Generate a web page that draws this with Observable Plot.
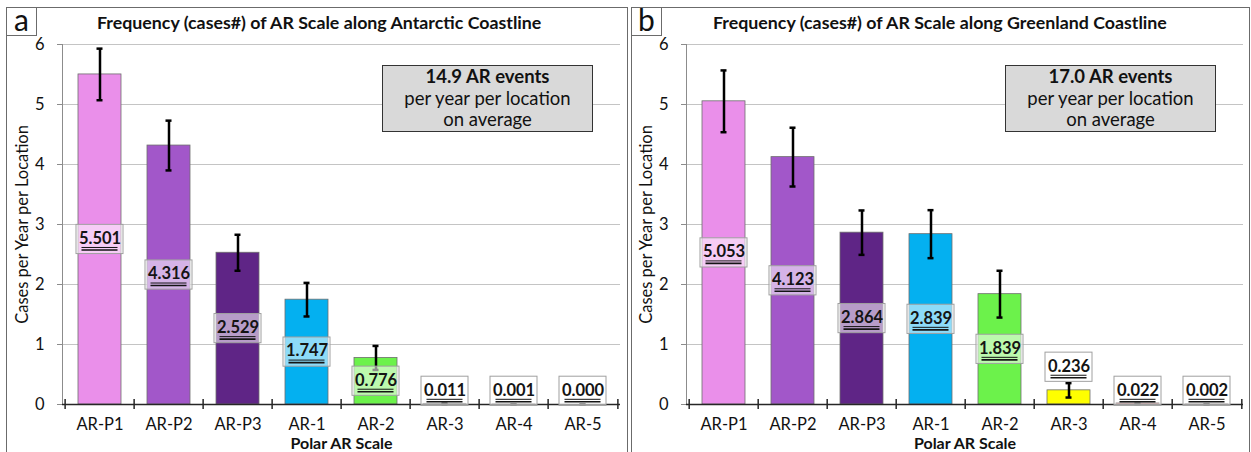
<!DOCTYPE html>
<html><head><meta charset="utf-8">
<script src="https://cdn.jsdelivr.net/npm/d3@7"></script>
<script src="https://cdn.jsdelivr.net/npm/@observablehq/plot@0.6"></script>
<style>
body{margin:0;background:#fff;font-family:Lato,sans-serif;}
#wrap{position:relative;width:1251px;height:452px;overflow:hidden;background:#fff;}
.svgpanel{position:absolute;top:0;}
.border{position:absolute;border:1.5px solid #6b6b6b;box-sizing:border-box;}
.tag{position:absolute;border:1.5px solid #6b6b6b;background:#fff;font-size:30px;line-height:23px;text-align:center;box-sizing:border-box;color:#111;}
.title{position:absolute;font-weight:bold;font-size:17.8px;white-space:nowrap;color:#111;}
.box{position:absolute;background:#d9d9d9;border:1.5px solid #333;box-sizing:border-box;text-align:center;font-size:18.5px;line-height:21.5px;padding-top:0px;color:#111;}
</style></head><body><div id="wrap"></div>
<script>
const categories = ["AR-P1", "AR-P2", "AR-P3", "AR-1", "AR-2", "AR-3", "AR-4", "AR-5"];
const barColors = ["#ea8fea", "#a257c9", "#5f2586", "#04b0f0", "#6cf24b", "#ffff00", "#a0282a", "#7f0000"];
const antarcticValues = [5.501, 4.316, 2.529, 1.747, 0.776, 0.011, 0.001, 0.000];
const antarcticErrors = [0.43, 0.415, 0.30, 0.28, 0.20, 0.012, 0.002, 0.0];
const greenlandValues = [5.053, 4.123, 2.864, 2.839, 1.839, 0.236, 0.022, 0.002];
const greenlandErrors = [0.515, 0.49, 0.37, 0.40, 0.39, 0.12, 0.015, 0.004];
const yTicks = [0, 1, 2, 3, 4, 5, 6];
const panelTags = ["a", "b"];
const panelTitles = ["Frequency (cases#) of AR Scale along Antarctic Coastline", "Frequency (cases#) of AR Scale along Greenland Coastline"];
const summaryHeads = ["14.9 AR events", "17.0 AR events"];
const summaryLines = ["per year per location", "on average"];
const yLabel = "Cases per Year per Location";
const xLabel = "Polar AR Scale";

function labelY(v) {
  if (v >= 0.5) return v / 2;
  if (v > 0.1) return v + 0.385;
  return 0.22;
}

function panelChart(values, errors, width, marginLeft, marginRight) {
  const data = categories.map((c, i) => ({
    cat: c, v: values[i], e: errors[i], color: barColors[i],
    ly: labelY(values[i]), label: values[i].toFixed(3)
  }));
  const step = (width - marginLeft - marginRight) / categories.length;
  return Plot.plot({
    width, height: 452, marginLeft, marginRight, marginTop: 44, marginBottom: 48,
    style: {fontFamily: "Lato, sans-serif", background: "none", overflow: "visible", color: "#111"},
    x: {domain: categories, paddingInner: 0.38, paddingOuter: 0.19, label: null},
    y: {domain: [0, 6], label: null},
    color: {type: "identity"},
    marks: [
      Plot.gridY(yTicks.slice(1), {stroke: "#c4c4c4", strokeOpacity: 1}),
      Plot.frame({anchor: "left", stroke: "#8c8c8c"}),
      Plot.barY(data, {x: "cat", y: "v", fill: "color", stroke: "#6e6e6e", strokeWidth: 0.8}),
      Plot.ruleX(data, {x: "cat", y1: d => d.v - d.e, y2: d => d.v + d.e, stroke: "#000", strokeWidth: 2.5}),
      Plot.tickY(data, {x: "cat", y: d => d.v + d.e, stroke: "#000", strokeWidth: 2.5, inset: 18.5}),
      Plot.tickY(data, {x: "cat", y: d => d.v - d.e, stroke: "#000", strokeWidth: 2.5, inset: 18.5}),
      Plot.ruleY([0], {stroke: "#262626", strokeWidth: 1.5}),
      Plot.ruleX(categories, {x: d => d, y1: -0.085, y2: 0.085, dx: -step / 2, stroke: "#262626", strokeWidth: 1.5}),
      Plot.ruleX(categories.slice(-1), {x: d => d, y1: -0.085, y2: 0.085, dx: step / 2, stroke: "#262626", strokeWidth: 1.5}),
      Plot.barY(data, {x: "cat", y1: d => d.ly - 0.21, y2: d => d.ly + 0.21, fill: "#fff", fillOpacity: 0.55, stroke: "#a0a0a0", strokeWidth: 1, inset: -2}),
      Plot.text(data, {x: "cat", y: "ly", text: "label", fontWeight: "bold", fontSize: 16.5, fill: "#141414", dy: -1}),
      Plot.tickY(data, {x: "cat", y: "ly", dy: 8, inset: 3.5, stroke: "#141414", strokeWidth: 1}),
      Plot.tickY(data, {x: "cat", y: "ly", dy: 10.5, inset: 3.5, stroke: "#141414", strokeWidth: 1.6}),
      Plot.axisY(yTicks, {tickSize: 5, tickPadding: 13, fontSize: 16.5, tickFormat: d3.format("d"), stroke: "#8c8c8c", fill: "#111", label: null}),
      Plot.axisX({tickSize: 0, tickPadding: 14, fontSize: 16.5, fill: "#111", label: null}),
      Plot.text([xLabel], {text: d => d, frameAnchor: "bottom", lineAnchor: "bottom", dy: 44, fontWeight: "bold", fontSize: 16, fill: "#111"}),
      Plot.text([yLabel], {text: d => d, frameAnchor: "left", textAnchor: "middle", dx: -40, rotate: -90, fontSize: 16.5, fill: "#111"})
    ]
  });
}

const wrap = document.getElementById("wrap");
function addDiv(cls, css, html) {
  const d = document.createElement("div");
  d.className = cls;
  Object.assign(d.style, css);
  if (html != null) d.innerHTML = html;
  wrap.appendChild(d);
  return d;
}

const layout = [
  {svgLeft: 0, width: 625, ml: 62, mr: 5, border: [6, 7, 622], tag: [6, 7], title: 97, box: 382},
  {svgLeft: 625, width: 626, ml: 61, mr: 8, border: [631, 7, 619], tag: [631, 7], title: 713, box: 1005}
];
const series = [[antarcticValues, antarcticErrors], [greenlandValues, greenlandErrors]];

layout.forEach((L, i) => {
  addDiv("border", {left: L.border[0] + "px", top: L.border[1] + "px", width: L.border[2] + "px", height: "460px"});
  const holder = addDiv("svgpanel", {left: L.svgLeft + "px"});
  holder.appendChild(panelChart(series[i][0], series[i][1], L.width, L.ml, L.mr));
  addDiv("tag", {left: L.tag[0] + "px", top: L.tag[1] + "px", width: "31px", height: "29px"}, panelTags[i]);
  addDiv("title", {left: L.title + "px", top: "11px"}, panelTitles[i]);
  addDiv("box", {left: L.box + "px", top: "65px", width: "211px", height: "67px"},
    "<b>" + summaryHeads[i] + "</b><br>" + summaryLines.join("<br>"));
});
</script></body></html>
